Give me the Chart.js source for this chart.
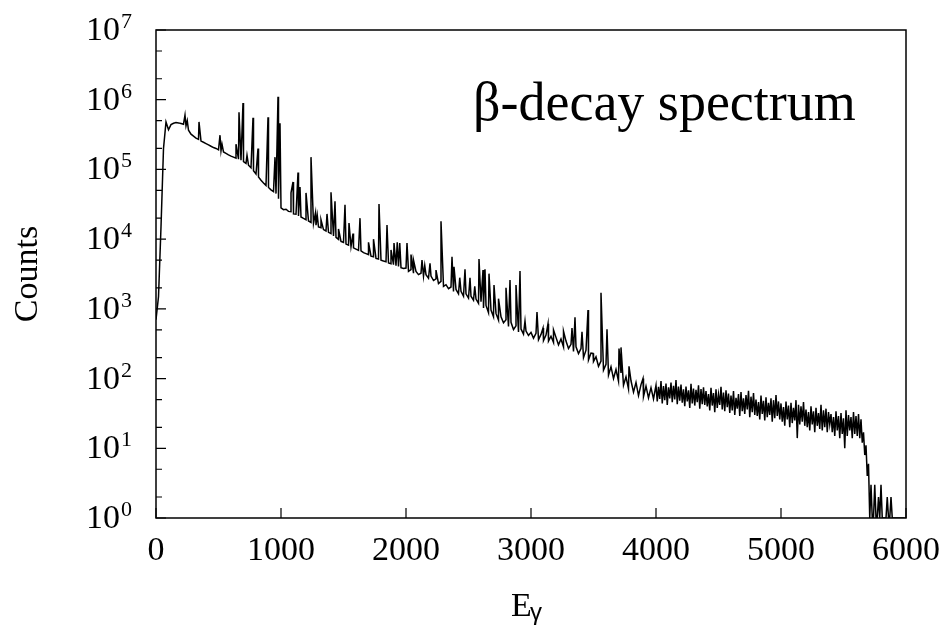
<!DOCTYPE html>
<html>
<head>
<meta charset="utf-8">
<script src="https://cdn.jsdelivr.net/npm/chart.js@4.4.0/dist/chart.umd.min.js"></script>
<style>
  html, body { margin: 0; padding: 0; background: #fff; }
</style>
</head>
<body>
<canvas id="spectrum" width="946" height="626"></canvas>
<script>
// continuum, 0..980 keV every 20 keV
var bgA = [700, 1500, 15000, 200000, 480000, 370000, 440000, 460000, 470000, 465000,
  455000, 445000, 420000, 365000, 320000, 300000, 282000, 270000, 255000, 245000,
  235000, 225000, 215000, 206000, 200000, 191000, 185000, 178000, 170000, 162000,
  155000, 150000, 145000, 140000, 135000, 129000, 122000, 115000, 106000, 96000,
  86000, 78000, 70000, 64000, 59000, 55000, 51000, 48000, 45000, 38000];

// continuum, 1000..3980 keV every 20 keV
var bgB = [28000, 26500, 26800, 25000, 24800, 23000, 22800, 21500, 20800, 19800,
  19000, 18200, 17400, 16800, 15900, 15000, 14600, 13700, 13100, 12500,
  12000, 11100, 10600, 9900, 9300, 9000, 8500, 8200, 7800, 7500,
  7200, 6900, 6800, 6400, 6200, 6000, 5700, 5600, 5300, 5200,
  5000, 4850, 4750, 4550, 4450, 4300, 4150, 4050, 3900, 3800,
  3850, 3450, 3650, 3250, 3450, 3100, 3250, 2950, 3100, 2750,
  2950, 2550, 2700, 2300, 2480, 2100, 2220, 1950, 2060, 1780,
  1900, 1650, 1780, 1520, 1640, 1430, 1520, 1330, 1380, 1200,
  1270, 1030, 1120, 880, 960, 770, 860, 690, 770, 630,
  700, 560, 640, 505, 570, 465, 515, 435, 480, 415,
  460, 380, 445, 360, 430, 350, 420, 345, 405, 330,
  390, 305, 370, 285, 345, 270, 310, 245, 285, 228,
  270, 200, 255, 185, 232, 176, 205, 150, 178, 132,
  160, 112, 148, 100, 135, 92, 120, 80, 106, 71,
  93, 64, 88, 57, 82, 55, 78, 53, 74, 51];

// continuum, 4000..5990 keV every 10 keV
var bgC = [80, 47, 76, 51, 92, 44, 78, 49, 85, 42, 75, 52, 88, 46, 79, 50, 95, 43, 77, 48,
  82, 45, 70, 40, 77, 47, 68, 38, 84, 44, 72, 41, 69, 46, 80, 37, 71, 43, 75, 42,
  66, 40, 60, 35, 74, 41, 62, 33, 70, 38, 59, 42, 76, 36, 63, 34, 68, 39, 61, 32,
  57, 35, 66, 30, 53, 37, 60, 29, 64, 34, 52, 31, 58, 36, 67, 28, 55, 33, 62, 30,
  50, 29, 46, 26, 57, 31, 48, 25, 54, 28, 45, 30, 52, 24, 49, 27, 58, 29, 47, 26,
  44, 24, 39, 21, 47, 26, 41, 20, 45, 23, 38, 25, 49, 14, 42, 22, 40, 24, 46, 21,
  36, 20, 33, 18, 40, 22, 34, 17, 38, 21, 32, 19, 42, 18, 35, 20, 37, 17, 33, 22,
  31, 17, 28, 15, 34, 18, 29, 14, 32, 16, 27, 10, 35, 15, 30, 18, 28, 14, 33, 16,
  29, 15, 31, 14, 26, 12, 17, 8, 11, 4, 6, 0, 3, 1, 0, 3, 1, 0, 2, 0,
  3, 0, 1, 0, 0, 2, 0, 0, 2, 0, 0, 0, 0, 0, 0, 0, 0, 0, 0, 0];

// gamma lines: energy (keV) and peak counts
var peakE = [232, 250, 344, 512, 528, 640, 664, 696, 728, 776, 816, 896, 952, 976, 992,
  1080, 1096, 1136, 1152, 1200, 1240, 1276, 1290, 1320, 1368, 1400, 1432, 1460, 1512, 1544,
  1576, 1632, 1700, 1740, 1784, 1848, 1880, 1904, 1930, 1950, 2008, 2040, 2060, 2128, 2150,
  2192, 2240, 2280, 2368, 2384, 2430, 2472, 2512, 2550, 2584, 2616, 2632, 2664, 2704, 2740,
  2800, 2832, 2880, 2912, 2952, 3048, 3096, 3136, 3180, 3260, 3328, 3352, 3408, 3456, 3496,
  3560, 3608, 3704, 3720, 3784, 3896];
var peakCounts = [600000, 500000, 480000, 310000, 230000, 230000, 660000, 900000, 160000, 550000, 200000, 560000, 150000, 1100000, 460000,
  46000, 66000, 90000, 56000, 46000, 150000, 24000, 22000, 19000, 23000, 47000, 35000, 14000, 31000, 17000,
  12000, 20000, 9000, 10000, 32000, 16000, 7000, 8800, 9000, 8800, 8800, 6000, 5000, 5000, 4200,
  4500, 3600, 18000, 5600, 4000, 2800, 3700, 2800, 2100, 5200, 3600, 3700, 3200, 2200, 1400,
  2000, 2600, 2200, 3500, 670, 900, 530, 610, 500, 480, 530, 760, 470, 960, 230,
  1700, 510, 270, 280, 150, 100];

var decades = [0, 1, 2, 3, 4, 5, 6, 7];
var xTickStep = 1000;

var points = [];
bgA.forEach(function (c, i) { points.push({ x: i * 20, y: c }); });
bgB.forEach(function (c, i) { points.push({ x: 1000 + i * 20, y: c }); });
bgC.forEach(function (c, i) { points.push({ x: 4000 + i * 10, y: c }); });
peakE.forEach(function (e, i) { points.push({ x: e, y: peakCounts[i] }); });
points.sort(function (a, b) { return a.x - b.x; });

var serif = "'Liberation Serif', 'Times New Roman', serif";

// frame, inward ticks, 10^n labels, E_gamma and the caption
var decor = {
  id: 'decor',
  afterDraw: function (chart) {
    var ctx = chart.ctx, a = chart.chartArea;
    var xs = chart.scales.x, ys = chart.scales.y;
    ctx.save();
    ctx.strokeStyle = '#000';
    ctx.lineWidth = 1.5;
    ctx.strokeRect(a.left, a.top, a.right - a.left, a.bottom - a.top);

    ctx.beginPath();
    xs.ticks.forEach(function (t) {
      var px = xs.getPixelForValue(t.value);
      ctx.moveTo(px, a.bottom);
      ctx.lineTo(px, a.bottom - 10);
    });
    decades.forEach(function (n) {
      var py = ys.getPixelForValue(Math.pow(10, n));
      ctx.moveTo(a.left, py);
      ctx.lineTo(a.left + 10, py);
      if (n < 7) {
        [2, 5].forEach(function (m) {
          var pm = ys.getPixelForValue(m * Math.pow(10, n));
          ctx.moveTo(a.left, pm);
          ctx.lineTo(a.left + 6, pm);
        });
      }
    });
    ctx.lineWidth = 1.2;
    ctx.stroke();

    ctx.fillStyle = '#000';
    ctx.textBaseline = 'alphabetic';
    decades.forEach(function (n) {
      var py = ys.getPixelForValue(Math.pow(10, n));
      ctx.font = '34px ' + serif;
      ctx.textAlign = 'right';
      ctx.fillText('10', 120, py + 10);
      ctx.font = '22px ' + serif;
      ctx.textAlign = 'left';
      ctx.fillText(String(n), 121, py - 2);
    });

    ctx.textAlign = 'left';
    ctx.font = '34px ' + serif;
    ctx.fillText('E', 511, 616);
    ctx.font = "24px 'Liberation Sans', sans-serif";
    ctx.fillText('\u03b3', 530, 620);

    ctx.font = '54px ' + serif;
    ctx.fillText('\u03b2-decay spectrum', 473, 120);
    ctx.restore();
  }
};

new Chart(document.getElementById('spectrum'), {
  type: 'line',
  data: {
    datasets: [{
      data: points,
      borderColor: '#000',
      borderWidth: 1.5,
      pointRadius: 0,
      tension: 0,
      fill: false
    }]
  },
  options: {
    responsive: false,
    animation: false,
    parsing: false,
    layout: { padding: { top: 30, right: 40, left: 0, bottom: 0 } },
    plugins: { legend: { display: false }, tooltip: { enabled: false } },
    scales: {
      x: {
        type: 'linear',
        min: 0,
        max: 6000,
        grid: { display: false, drawTicks: false },
        border: { display: false },
        ticks: {
          stepSize: xTickStep,
          color: '#000',
          padding: 13,
          maxRotation: 0,
          font: { family: serif, size: 34 },
          callback: function (v) { return String(v); }
        },
        afterFit: function (s) {
          s.height = 108;
          s.paddingLeft = 0;
          s.paddingRight = 40;
        }
      },
      y: {
        type: 'logarithmic',
        min: 1,
        max: 1e7,
        grid: { display: false, drawTicks: false },
        border: { display: false },
        ticks: { display: false },
        title: {
          display: true,
          text: 'Counts',
          color: '#000',
          padding: { top: 8, bottom: 0 },
          font: { family: serif, size: 34 }
        },
        afterFit: function (s) { s.width = 156; }
      }
    }
  },
  plugins: [decor]
});
</script>
</body>
</html>
